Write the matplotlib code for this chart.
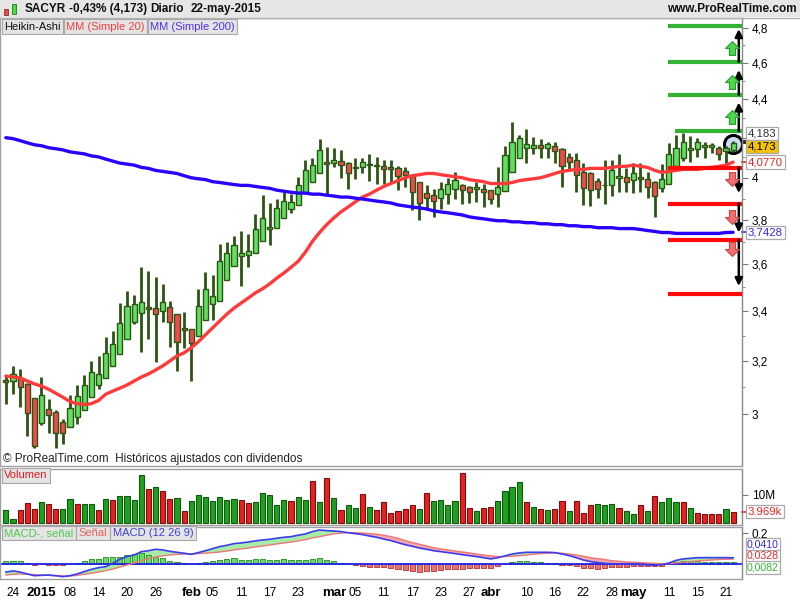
import numpy as np
import pandas as pd
import matplotlib
matplotlib.use('Agg')
import matplotlib.pyplot as plt
from matplotlib.path import Path
from matplotlib.patches import Rectangle
from matplotlib.lines import Line2D
from matplotlib.ticker import FixedLocator, NullFormatter
from matplotlib.transforms import blended_transform_factory

plt.rcParams['font.family'] = ['Liberation Sans', 'DejaVu Sans']

# ---- data (SACYR, Heikin-Ashi, daily) ----
holidays = ['2014-12-25', '2014-12-26', '2015-01-01', '2015-04-03', '2015-04-06', '2015-05-01']

opens = [3.127, 3.123, 3.135, 3.112, 3.058, 2.967, 3.019, 3.008, 2.970, 2.952,
         2.989, 3.015, 3.062, 3.108, 3.135, 3.181, 3.228, 3.288, 3.356, 3.392,
         3.417, 3.413, 3.400, 3.417, 3.388, 3.332, 3.328, 3.300, 3.364, 3.430,
         3.443, 3.532, 3.591, 3.636, 3.640, 3.649, 3.702, 3.756, 3.764, 3.809,
         3.851, 3.870, 3.926, 3.977, 4.021, 4.077, 4.072, 4.082, 4.072, 4.046,
         4.051, 4.067, 4.056, 4.056, 4.051, 4.046, 4.031, 4.010, 3.977, 3.926,
         3.916, 3.902, 3.921, 3.944, 3.963, 3.953, 3.944, 3.944, 3.940, 3.921,
         3.935, 4.026, 4.097, 4.149, 4.149, 4.164, 4.149, 4.159, 4.144, 4.103,
         4.087, 4.026, 4.021, 3.986, 3.963, 3.963, 4.000, 4.005, 3.991, 4.005,
         3.995, 3.981, 3.949, 3.972, 4.056, 4.097, 4.138, 4.144, 4.154, 4.154,
         4.149, 4.133, 4.138]
closes = [3.119, 3.150, 3.100, 3.004, 2.885, 3.069, 2.996, 2.933, 2.933, 3.023,
          3.065, 3.108, 3.158, 3.150, 3.232, 3.268, 3.352, 3.421, 3.430, 3.438,
          3.409, 3.388, 3.438, 3.356, 3.276, 3.324, 3.272, 3.421, 3.494, 3.464,
          3.613, 3.649, 3.684, 3.649, 3.658, 3.760, 3.809, 3.769, 3.856, 3.888,
          3.884, 3.967, 4.036, 4.062, 4.138, 4.067, 4.087, 4.062, 4.021, 4.051,
          4.077, 4.062, 4.062, 4.041, 4.041, 4.010, 4.015, 3.930, 3.879, 3.902,
          3.888, 3.944, 3.972, 3.991, 3.940, 3.930, 3.953, 3.930, 3.898, 3.953,
          4.113, 4.180, 4.200, 4.169, 4.164, 4.149, 4.169, 4.133, 4.056, 4.077,
          4.015, 3.949, 3.940, 3.944, 3.967, 4.036, 4.010, 3.981, 4.021, 3.995,
          3.953, 3.912, 3.995, 4.118, 4.149, 4.180, 4.149, 4.180, 4.164, 4.164,
          4.118, 4.149, 4.173]
highs = [3.146, 3.181, 3.169, 3.115, 3.058, 3.138, 3.054, 3.015, 2.982, 3.069,
         3.108, 3.146, 3.200, 3.220, 3.296, 3.320, 3.434, 3.485, 3.468, 3.587,
         3.570, 3.545, 3.515, 3.443, 3.388, 3.396, 3.328, 3.494, 3.566, 3.553,
         3.689, 3.698, 3.724, 3.747, 3.733, 3.828, 3.916, 3.879, 3.898, 3.930,
         3.921, 4.005, 4.087, 4.097, 4.195, 4.154, 4.149, 4.138, 4.077, 4.097,
         4.097, 4.118, 4.103, 4.087, 4.087, 4.056, 4.051, 4.010, 3.977, 3.963,
         3.944, 3.977, 4.000, 4.026, 3.972, 3.958, 3.977, 3.972, 3.940, 4.051,
         4.159, 4.279, 4.216, 4.247, 4.205, 4.195, 4.180, 4.180, 4.149, 4.123,
         4.123, 4.072, 4.026, 4.000, 4.087, 4.087, 4.118, 4.046, 4.072, 4.072,
         4.026, 3.986, 4.067, 4.174, 4.216, 4.226, 4.211, 4.200, 4.180, 4.174,
         4.159, 4.159, 4.183]
lows = [3.035, 3.073, 3.027, 2.922, 2.878, 2.959, 2.933, 2.878, 2.893, 2.952,
        2.963, 3.015, 3.062, 3.092, 3.135, 3.181, 3.228, 3.288, 3.348, 3.236,
        3.288, 3.196, 3.356, 3.256, 3.162, 3.252, 3.123, 3.300, 3.364, 3.364,
        3.443, 3.532, 3.591, 3.506, 3.587, 3.649, 3.702, 3.684, 3.764, 3.809,
        3.833, 3.870, 3.926, 3.977, 4.021, 3.921, 4.051, 4.000, 3.944, 3.995,
        4.021, 3.986, 3.972, 3.972, 3.977, 3.940, 3.953, 3.847, 3.800, 3.847,
        3.814, 3.851, 3.874, 3.898, 3.874, 3.879, 3.884, 3.860, 3.874, 3.860,
        3.935, 4.026, 4.097, 4.072, 4.118, 4.097, 4.097, 4.072, 3.953, 4.041,
        3.930, 3.870, 3.865, 3.902, 3.874, 3.912, 3.930, 3.930, 3.926, 3.930,
        3.902, 3.814, 3.930, 3.972, 4.056, 4.082, 4.077, 4.103, 4.097, 4.123,
        4.087, 4.067, 4.128]

sma20 = [3.142, 3.138, 3.135, 3.123, 3.112, 3.104, 3.092, 3.077, 3.062, 3.046,
         3.038, 3.035, 3.038, 3.050, 3.073, 3.085, 3.096, 3.108, 3.123, 3.138,
         3.150, 3.165, 3.181, 3.200, 3.220, 3.232, 3.252, 3.276, 3.304, 3.332,
         3.360, 3.388, 3.413, 3.434, 3.455, 3.477, 3.494, 3.515, 3.540, 3.562,
         3.587, 3.613, 3.653, 3.702, 3.742, 3.778, 3.809, 3.837, 3.860, 3.884,
         3.907, 3.921, 3.940, 3.958, 3.972, 3.986, 4.000, 4.010, 4.015, 4.021,
         4.021, 4.015, 4.010, 4.005, 4.000, 3.991, 3.986, 3.981, 3.972, 3.972,
         3.972, 3.977, 3.986, 3.991, 3.995, 4.000, 4.010, 4.021, 4.031, 4.036,
         4.041, 4.041, 4.046, 4.046, 4.046, 4.051, 4.056, 4.056, 4.062, 4.056,
         4.051, 4.036, 4.026, 4.031, 4.036, 4.041, 4.041, 4.041, 4.046, 4.051,
         4.056, 4.062, 4.077]
sma200 = [4.200, 4.195, 4.185, 4.174, 4.164, 4.159, 4.149, 4.144, 4.138, 4.128,
          4.123, 4.118, 4.108, 4.103, 4.092, 4.082, 4.072, 4.067, 4.062, 4.051,
          4.046, 4.036, 4.031, 4.026, 4.021, 4.010, 4.000, 3.995, 3.991, 3.981,
          3.977, 3.972, 3.967, 3.963, 3.963, 3.958, 3.953, 3.949, 3.940, 3.935,
          3.930, 3.926, 3.926, 3.921, 3.921, 3.916, 3.912, 3.907, 3.907, 3.902,
          3.898, 3.893, 3.888, 3.884, 3.879, 3.870, 3.865, 3.860, 3.856, 3.851,
          3.842, 3.837, 3.833, 3.828, 3.823, 3.814, 3.809, 3.805, 3.800, 3.796,
          3.796, 3.791, 3.791, 3.787, 3.787, 3.782, 3.782, 3.778, 3.778, 3.773,
          3.773, 3.769, 3.769, 3.764, 3.764, 3.764, 3.760, 3.760, 3.760, 3.756,
          3.751, 3.747, 3.742, 3.742, 3.738, 3.738, 3.738, 3.738, 3.738, 3.738,
          3.738, 3.742, 3.7428]

volume = [4.5, 1.5, 4.5, 7.2, 5.0, 7.5, 6.6, 5.0, 4.8, 8.6,
          6.8, 6.6, 6.8, 4.7, 8.6, 8.0, 9.4, 9.6, 8.2, 17.0,
          12.1, 12.8, 11.4, 8.6, 8.9, 4.3, 7.9, 10.0, 9.0, 7.9,
          9.3, 8.0, 8.6, 8.2, 7.2, 7.5, 10.7, 10.0, 6.5, 8.2,
          7.9, 9.3, 8.2, 14.9, 7.3, 16.0, 8.9, 4.7, 6.2, 5.4,
          10.3, 5.8, 4.5, 7.5, 3.6, 4.3, 4.8, 6.2, 4.8, 10.7,
          7.9, 8.2, 6.2, 7.9, 17.7, 5.4, 4.3, 5.4, 5.8, 7.9,
          11.4, 12.8, 14.6, 7.5, 5.8, 4.9, 4.7, 5.0, 7.9, 4.3,
          7.9, 3.6, 6.2, 6.8, 6.2, 6.8, 5.4, 4.3, 3.3, 6.5,
          4.3, 9.6, 7.5, 8.9, 7.5, 7.5, 5.4, 3.6, 3.1, 3.1,
          3.1, 5.0, 3.969]
vol_dir = ('ggrrrgrrgg' 'rggrgrgggg' 'rgrrgrgggg' 'gggrrggggg' 'rggrgrgrgg'
           'rgrrrrrrgr' 'ggggrrgrrg' 'gggrgrgrrg' 'rrrgggrggr' 'grgggrgrrr' 'rgr')

macd = [-0.049, -0.042, -0.049, -0.061, -0.072, -0.070, -0.068, -0.072, -0.078, -0.072,
        -0.061, -0.046, -0.032, -0.021, -0.015, 0.006, 0.032, 0.049, 0.059, 0.080,
        0.086, 0.095, 0.091, 0.082, 0.076, 0.070, 0.063, 0.074, 0.086, 0.099,
        0.112, 0.120, 0.131, 0.135, 0.141, 0.148, 0.154, 0.158, 0.165, 0.171,
        0.175, 0.184, 0.192, 0.207, 0.217, 0.213, 0.211, 0.207, 0.200, 0.194,
        0.188, 0.179, 0.171, 0.160, 0.150, 0.137, 0.124, 0.114, 0.103, 0.095,
        0.086, 0.080, 0.074, 0.068, 0.061, 0.055, 0.049, 0.042, 0.034, 0.042,
        0.053, 0.065, 0.072, 0.076, 0.076, 0.076, 0.076, 0.074, 0.065, 0.055,
        0.042, 0.027, 0.017, 0.011, 0.006, 0.004, 0.002, 0.000, 0.000, -0.002,
        -0.004, -0.006, -0.002, 0.008, 0.025, 0.034, 0.038, 0.042, 0.042, 0.042,
        0.042, 0.042, 0.041]
signal = [-0.068, -0.063, -0.061, -0.063, -0.065, -0.068, -0.070, -0.072, -0.074, -0.074,
          -0.070, -0.063, -0.057, -0.049, -0.040, -0.030, -0.017, -0.004, 0.008, 0.023,
          0.036, 0.046, 0.053, 0.059, 0.063, 0.065, 0.065, 0.068, 0.070, 0.074,
          0.078, 0.084, 0.091, 0.097, 0.103, 0.110, 0.116, 0.122, 0.129, 0.135,
          0.141, 0.148, 0.156, 0.167, 0.175, 0.184, 0.192, 0.198, 0.200, 0.200,
          0.198, 0.194, 0.190, 0.184, 0.175, 0.165, 0.150, 0.137, 0.127, 0.116,
          0.105, 0.097, 0.091, 0.084, 0.078, 0.072, 0.065, 0.059, 0.053, 0.049,
          0.049, 0.051, 0.055, 0.059, 0.063, 0.068, 0.070, 0.072, 0.070, 0.065,
          0.059, 0.051, 0.042, 0.036, 0.030, 0.023, 0.019, 0.015, 0.013, 0.011,
          0.008, 0.006, 0.004, 0.004, 0.008, 0.013, 0.017, 0.021, 0.025, 0.027,
          0.030, 0.032, 0.0328]
hist = [0.021, 0.021, 0.021, 0.006, -0.006, 0.001, -0.006, -0.006, -0.002, 0.004,
        0.011, 0.021, 0.034, 0.034, 0.044, 0.044, 0.049, 0.057, 0.063, 0.070,
        0.059, 0.049, 0.038, 0.021, 0.015, 0.006, 0.002, 0.008, 0.015, 0.021,
        0.027, 0.032, 0.038, 0.027, 0.030, 0.032, 0.032, 0.030, 0.030, 0.032,
        0.027, 0.027, 0.030, 0.032, 0.038, 0.027, 0.019, 0.006, 0.001, -0.004,
        -0.008, -0.015, -0.017, -0.019, -0.023, -0.032, -0.036, -0.044, -0.051, -0.042,
        -0.042, -0.038, -0.032, -0.027, -0.027, -0.025, -0.025, -0.025, -0.025, -0.011,
        0.002, 0.015, 0.021, 0.021, 0.017, 0.015, 0.011, 0.006, -0.002, -0.006,
        -0.013, -0.021, -0.023, -0.027, -0.021, -0.019, -0.015, -0.015, -0.013, -0.011,
        -0.011, -0.011, -0.008, 0.002, 0.017, 0.021, 0.021, 0.021, 0.017, 0.015,
        0.015, 0.015, 0.015]

# support / resistance levels drawn at the right edge
green_levels = [4.813, 4.607, 4.426, 4.233]
red_levels = [4.050, 3.876, 3.708, 3.471]
up_arrows = [(4.233, 4.384), (4.426, 4.561), (4.607, 4.794)]
down_arrows = [(4.050, 3.926), (3.876, 3.742), (3.708, 3.506)]
up_icons = [4.685, 4.495, 4.305]
down_icons = [3.995, 3.814, 3.667]

tick_dates = ['2014-12-24', '2015-01-02', '2015-01-08', '2015-01-14', '2015-01-20', '2015-01-26',
              '2015-02-02', '2015-02-05', '2015-02-11', '2015-02-17', '2015-02-23', '2015-03-02',
              '2015-03-05', '2015-03-11', '2015-03-17', '2015-03-23', '2015-03-27', '2015-04-01',
              '2015-04-10', '2015-04-16', '2015-04-22', '2015-04-28', '2015-05-04', '2015-05-11',
              '2015-05-15', '2015-05-21']
tick_text = ['24', '2015', '08', '14', '20', '26', 'feb', '05', '11', '17', '23', 'mar',
             '05', '11', '17', '23', '27', 'abr', '10', '16', '22', '28', 'may', '11', '15', '21']
bold_ticks = ['2015', 'feb', 'mar', 'abr', 'may']

# ---- build ----
days = pd.bdate_range('2014-12-23', '2015-05-22')
days = days[~days.isin(pd.to_datetime(holidays))]
x = np.arange(1, len(days) + 1)
o, c, h, l = map(np.array, (opens, closes, highs, lows))
macd, signal, hist = map(np.array, (macd, signal, hist))
XL = (0.18, 104.25)

W, H = 800, 600
fig = plt.figure(figsize=(8, 6), dpi=100)
renderer = fig.canvas.get_renderer()


def fig_rect(px_left, px_top, px_w, px_h):
    return [px_left / W, 1 - (px_top + px_h) / H, px_w / W, px_h / H]


ax = fig.add_axes(fig_rect(0, 18, 742, 448))
axv = fig.add_axes(fig_rect(0, 469, 742, 56))
axm = fig.add_axes(fig_rect(0, 527, 742, 52))

wick_col = '#2b5512'
up = c >= o

# price panel
ax.set_yscale('log')
ax.vlines(x, l, h, color=wick_col, lw=2.0, zorder=2)
ax.bar(x, np.abs(c - o), bottom=np.minimum(o, c), width=0.72,
       color=np.where(up, '#5fe05f', '#f24a4a'), edgecolor=wick_col, lw=1.0, zorder=3)
ax.plot(x, sma20, color='#ff3a3a', lw=2.4, zorder=4, solid_capstyle='round')
ax.plot(x, sma200, color='#2a00ff', lw=2.4, zorder=4, solid_capstyle='round')

ax.hlines(green_levels[:3], 93.87, XL[1], color='#33b233', lw=3.0, zorder=5)
ax.hlines(green_levels[3:], 94.85, XL[1], color='#33b233', lw=3.0, zorder=5)
ax.hlines(red_levels, 93.87, XL[1], color='#ff0a0a', lw=3.0, zorder=5)
for a, b in up_arrows + down_arrows:
    ax.annotate('', xy=(103.8, b), xytext=(103.8, a),
                arrowprops=dict(arrowstyle='-|>', color='black', lw=1.8,
                                mutation_scale=11, shrinkA=0, shrinkB=0), zorder=6)

up_path = Path([(-0.22, -0.5), (0.22, -0.5), (0.22, 0.0), (0.5, 0.0), (0, 0.5),
                (-0.5, 0.0), (-0.22, 0.0), (-0.22, -0.5)],
               [Path.MOVETO] + [Path.LINETO] * 6 + [Path.CLOSEPOLY])
down_path = Path(up_path.vertices * [1, -1], up_path.codes)
ax.plot([102.85] * 3, up_icons, ls='none', marker=up_path, ms=10,
        mfc='#4fd64f', mec='#2a9a2a', mew=0.8, zorder=6)
ax.plot([102.85] * 3, down_icons, ls='none', marker=down_path, ms=10,
        mfc='#ee7070', mec='#cc4444', mew=0.8, zorder=6)

# highlight last candle
ax.plot([x[-1]], [4.167], 'o', ms=13, mfc='#cfdbf6', mec='black', mew=2.2, zorder=1.9)

ax.set_xlim(*XL)
ax.set_ylim(2.816, 4.859)
ax.yaxis.tick_right()
majors = [3.0, 3.2, 3.4, 3.6, 3.8, 4.0, 4.2, 4.4, 4.6, 4.8]
ax.yaxis.set_major_locator(FixedLocator(majors))
ax.set_yticklabels(['3', '3,2', '3,4', '3,6', '3,8', '4', '', '4,4', '4,6', '4,8'])
ax.yaxis.set_minor_locator(FixedLocator([3.1, 3.3, 3.5, 3.7, 3.9, 4.1, 4.3, 4.5, 4.7]))
ax.yaxis.set_minor_formatter(NullFormatter())
ax.tick_params(axis='y', which='major', length=4, color='#777777', labelsize=8.5, pad=3)
ax.tick_params(axis='y', which='minor', length=2.5, color='#777777')
ax.set_xticks([])

tr = blended_transform_factory(ax.transAxes, ax.transData)
box = dict(boxstyle='square,pad=0.15', lw=0.9)
ax.text(1.008, 4.222, '4,183', transform=tr, va='center', fontsize=8.2, color='#333333',
        bbox=dict(box, fc='white', ec='#aaaaaa'), zorder=10)
ax.text(1.008, 4.155, '4,173', transform=tr, va='center', fontsize=8.2, color='black',
        bbox=dict(box, fc='#f5c400', ec='#aaaaaa'), zorder=11)
ax.text(1.008, 4.077, '4,0770', transform=tr, va='center', fontsize=8.2, color='#ee2222',
        bbox=dict(box, fc='white', ec='#aaaaaa'), zorder=10)
ax.text(1.008, 3.7428, '3,7428', transform=tr, va='center', fontsize=8.2, color='#3322ee',
        bbox=dict(box, fc='white', ec='#aaaaaa'), zorder=10)
for val, col in [(4.183, 'black'), (4.173, 'black'), (4.077, '#ee2222'), (3.7428, '#3322ee')]:
    ax.add_line(Line2D([1.0, 1.006], [val, val], transform=tr, color=col, lw=1.2, clip_on=False))

ax.text(0.004, 0.003, '© ProRealTime.com  Históricos ajustados con dividendos',
        transform=ax.transAxes, fontsize=8.5, color='#222222', va='bottom')

# volume panel
vcol = ['#1fa01f' if d == 'g' else '#e82020' for d in vol_dir]
vedge = ['#0f5a0f' if d == 'g' else '#7a0f0f' for d in vol_dir]
axv.bar(x, volume, width=0.72, color=vcol, edgecolor=vedge, lw=0.8)
axv.set_xlim(*XL)
axv.set_ylim(-0.7, 19.0)
axv.yaxis.tick_right()
axv.set_yticks([10])
axv.set_yticklabels(['10M'])
axv.tick_params(axis='y', length=4, color='#777777', labelsize=8.5, pad=3)
axv.set_xticks([])
trv = blended_transform_factory(axv.transAxes, axv.transData)
axv.text(1.008, 3.969, '3.969k', transform=trv, va='center', fontsize=8.2, color='#ee2222',
         bbox=dict(box, fc='white', ec='#aaaaaa'))
axv.add_line(Line2D([1.0, 1.006], [3.969, 3.969], transform=trv, color='#ee2222', lw=1.2,
                    clip_on=False))

# MACD panel
axm.fill_between(x, macd, signal, where=macd >= signal, interpolate=True,
                 color='#a6eca6', lw=0)
axm.fill_between(x, macd, signal, where=macd < signal, interpolate=True,
                 color='#f2aaaa', lw=0)
axm.bar(x, hist, width=0.72, color=np.where(hist >= 0, '#6ad86a', '#ec7272'),
        edgecolor=np.where(hist >= 0, '#2f9a2f', '#c24040'), lw=0.7)
axm.axhline(0, color='#2020e8', lw=1.3)
axm.plot(x, signal, color='#f07575', lw=1.0)
axm.plot(x, macd, color='#3b3bf0', lw=1.2)
axm.set_xlim(*XL)
axm.set_ylim(-0.093, 0.236)
axm.yaxis.tick_right()
axm.set_yticks([0.2])
axm.set_yticklabels(['0,2'])
axm.tick_params(axis='y', length=4, color='#777777', labelsize=8.5, pad=3)

pos = [days.get_loc(pd.Timestamp(d)) + 1 for d in tick_dates]
axm.set_xticks(pos)
axm.set_xticklabels(tick_text)
axm.tick_params(axis='x', length=0, labelsize=8.5, pad=6)
for lab in axm.get_xticklabels():
    if lab.get_text() in bold_ticks:
        lab.set_fontweight('bold')
        lab.set_fontsize(9.5)

for a in (ax, axv, axm):
    for s in a.spines.values():
        s.set_color('#a0a0a0')
        s.set_linewidth(1.0)
    a.spines['right'].set_color('#888888')

for py, s, col in [(544.5, '0,0410', '#3322ee'), (556, '0,0328', '#ee2222'),
                   (567.5, '0,0082', '#33bb33')]:
    fig.text(747 / W, 1 - py / H, s, fontsize=7.6, color=col, va='center',
             bbox=dict(boxstyle='square,pad=0.1', lw=0.9, fc='white', ec='#aaaaaa'))

# header bar
fig.patches.append(Rectangle((0, 1 - 17 / H), 1, 17 / H, transform=fig.transFigure,
                             fc='#e6e6e6', ec='none', zorder=0))
fig.add_artist(Line2D([0, 1], [1 - 17.5 / H] * 2, color='#b0b0b0', lw=1.0))
fig.patches.append(Rectangle((4 / W, 1 - 15 / H), 4 / W, 6 / H, transform=fig.transFigure,
                             fc='#ee4444', ec='#883333', lw=0.6))
fig.patches.append(Rectangle((12 / W, 1 - 14 / H), 4 / W, 10 / H, transform=fig.transFigure,
                             fc='#44dd44', ec='#227722', lw=0.6))
hy = 1 - 9 / H
for px, s in [(25, 'SACYR'), (69, '-0,43% (4,173)'), (150, 'Diario'), (191, '22-may-2015')]:
    fig.text(px / W, hy, s, fontsize=8.5, fontweight='bold', va='center', color='#111111')
fig.text(797 / W, hy, 'www.ProRealTime.com', fontsize=8.5, fontweight='bold', va='center',
         ha='right', color='#111111')

# indicator name tabs, placed one after another
tab = dict(boxstyle='square,pad=0.22', fc='#e4e4e4', ec='#a8a8a8', lw=0.8)
tab_rows = [(26.5, [('Heikin-Ashi', '#111111'), ('MM (Simple 20)', '#f04040'),
                    ('MM (Simple 200)', '#5030ee')]),
            (475.5, [('Volumen', '#dd1f1f')]),
            (533, [('MACD-, señal', '#50c850'), ('Señal', '#e86060'),
                   ('MACD (12 26 9)', '#4040d8')])]
for py, items in tab_rows:
    px = 4
    for s, col in items:
        t = fig.text(px / W, 1 - py / H, s, fontsize=8, color=col, va='center', bbox=tab)
        bb = t.get_window_extent(renderer)
        px = bb.x1 + 5.5

fig.savefig('out.png', dpi=100)
